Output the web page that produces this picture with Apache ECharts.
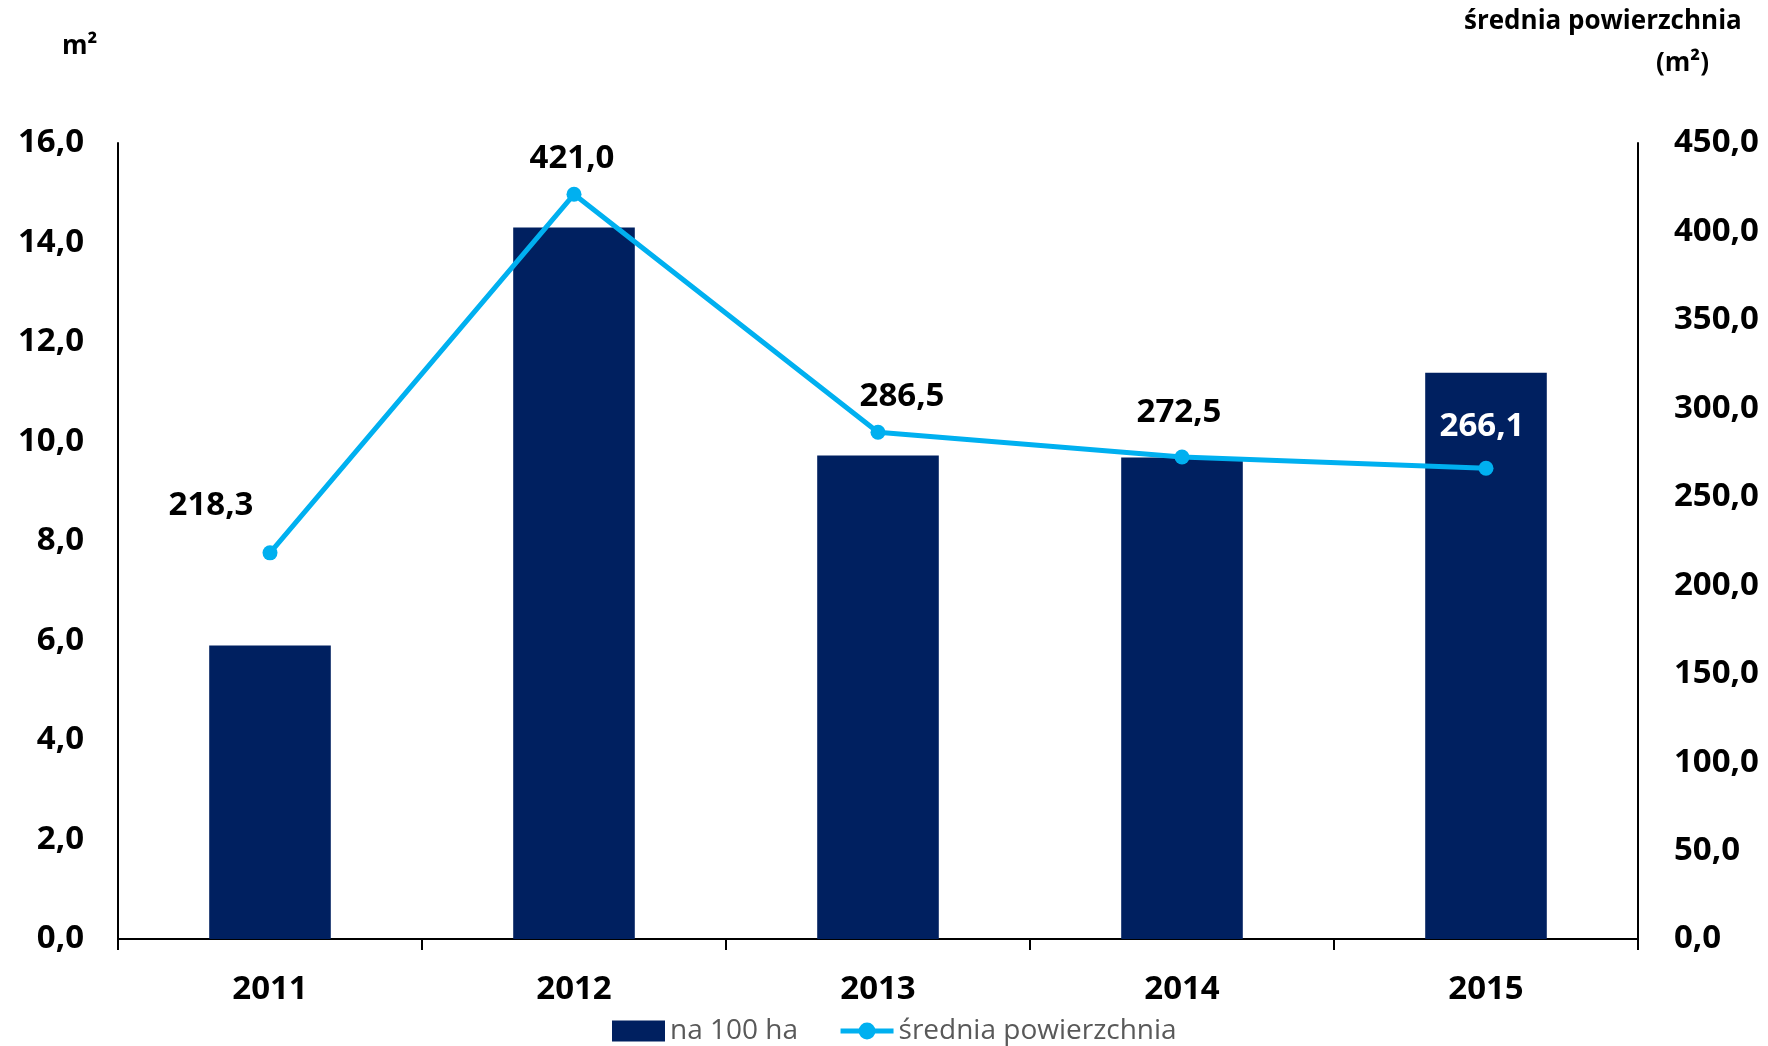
<!DOCTYPE html>
<html><head><meta charset="utf-8">
<script src="https://cdn.jsdelivr.net/npm/echarts@6/dist/echarts.min.js"></script>
<style>html,body{margin:0;padding:0;background:#fff}#c{width:1768px;height:1046px}</style>
</head><body><div id="c"></div>
<script>
const categories = ['2011','2012','2013','2014','2015'];
const na100ha = [5.9, 14.3, 9.72, 9.68, 11.38];
const srednia = [218.3, 421.0, 286.5, 272.5, 266.1];
const leftTicks = {min:0, max:16, interval:2};
const rightTicks = {min:0, max:450, interval:50};
const labelOffsets = [[-59,-47],[-2,-36],[24,-36],[-3,-44],[-4,-42]];
const labelColors = ['#000','#000','#000','#000','#fff'];

const FONT = 'Open Sans';
const fmt = v => Number(v).toFixed(1).replace('.', ',');
const chart = echarts.init(document.getElementById('c'));
chart.setOption({
  animation:false,
  textStyle:{fontFamily:FONT},
  title:[
    {text:'m²', left:57, top:29, textStyle:{fontFamily:FONT,fontSize:26,fontWeight:'bold',color:'#000'}},
    {text:'średnia powierzchnia', left:1459, top:4, textStyle:{fontFamily:FONT,fontSize:26,fontWeight:'bold',color:'#000'}},
    {text:'(m²)', left:1651, top:46, textStyle:{fontFamily:FONT,fontSize:26,fontWeight:'bold',color:'#000'}}
  ],
  grid:{left:118,right:130,top:143,bottom:107,containLabel:false},
  legend:{
    left:607, top:1012, itemWidth:53, itemHeight:21, itemGap:40,
    textStyle:{fontFamily:FONT,fontSize:28,color:'#595959'},
    data:[{name:'na 100 ha', icon:'rect'},{name:'średnia powierzchnia', lineStyle:{width:5}}]
  },
  xAxis:{
    type:'category', data:categories, boundaryGap:true,
    axisLine:{lineStyle:{color:'#000',width:2}},
    axisTick:{show:true,alignWithLabel:false,length:11,lineStyle:{color:'#000',width:2}},
    axisLabel:{fontFamily:FONT,fontSize:33,fontWeight:'bold',color:'#000',margin:34}
  },
  yAxis:[
    {type:'value', min:leftTicks.min, max:leftTicks.max, interval:leftTicks.interval,
     splitLine:{show:false},
     axisLine:{show:true,lineStyle:{color:'#000',width:2}}, axisTick:{show:false},
     axisLabel:{fontFamily:FONT,fontSize:33,fontWeight:'bold',color:'#000',margin:34,formatter:fmt}},
    {type:'value', min:rightTicks.min, max:rightTicks.max, interval:rightTicks.interval,
     splitLine:{show:false},
     axisLine:{show:true,lineStyle:{color:'#000',width:2}}, axisTick:{show:false},
     axisLabel:{fontFamily:FONT,fontSize:33,fontWeight:'bold',color:'#000',margin:36,formatter:fmt}}
  ],
  series:[
    {name:'na 100 ha', type:'bar', yAxisIndex:0, data:na100ha, barWidth:'40%',
     itemStyle:{color:'#002060'}},
    {name:'średnia powierzchnia', type:'line', yAxisIndex:1, z:5,
     data: srednia.map((v,i)=>({value:v, label:{offset:labelOffsets[i], color:labelColors[i]}})),
     symbol:'circle', symbolSize:15,
     lineStyle:{color:'#00B0F0',width:5}, itemStyle:{color:'#00B0F0'},
     label:{show:true, position:'inside', align:'center', verticalAlign:'middle',
       fontFamily:FONT, fontSize:33, fontWeight:'bold', formatter:p=>fmt(p.value)}}
  ]
});
</script></body></html>
